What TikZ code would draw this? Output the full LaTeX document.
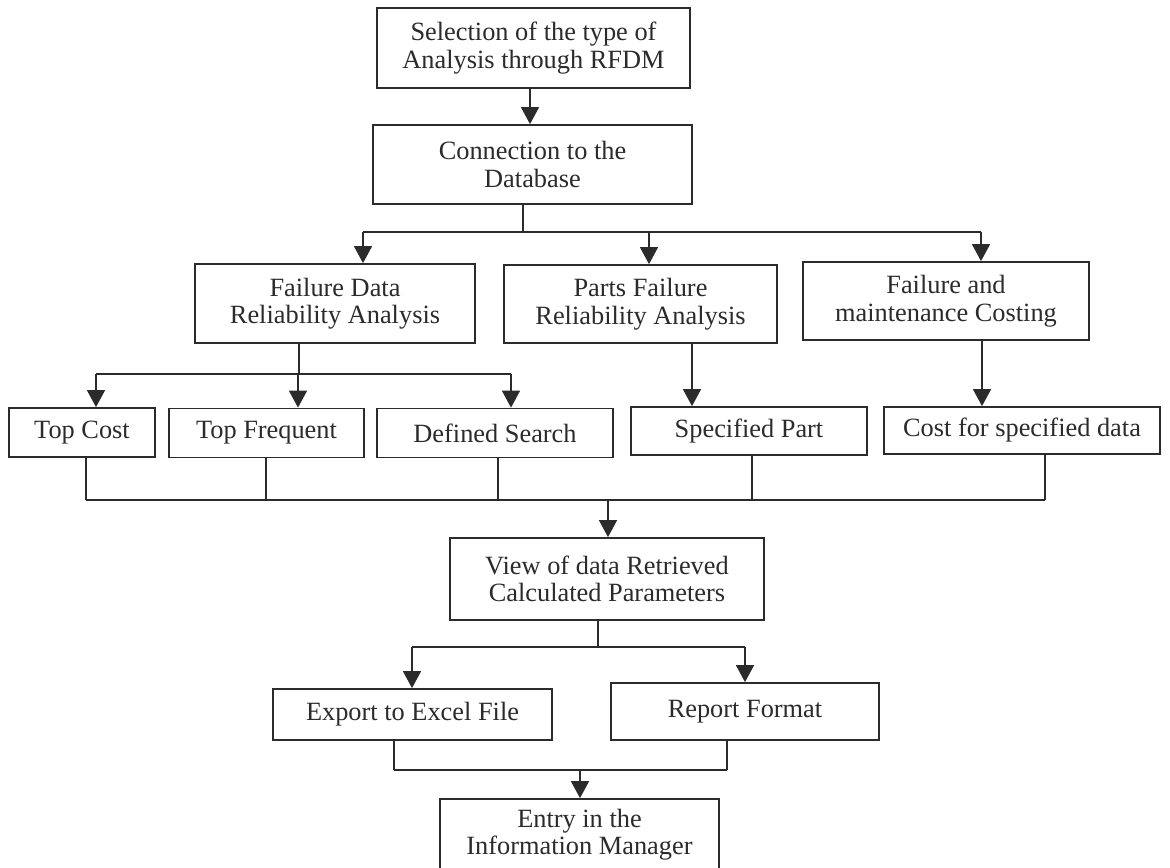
\documentclass[tikz,border=0pt]{standalone}
\usepackage{fontspec}
\setmainfont{Liberation Serif}
\usepackage{tikz}
\usetikzlibrary{arrows.meta,positioning}
\definecolor{InkGrey}{HTML}{2B2B2B}

\begin{document}
\begin{tikzpicture}[x=0.02cm,y=-0.02cm,
  box/.style={draw=InkGrey,line width=1pt,align=center,text=InkGrey,inner sep=0pt,font=\fontsize{15}{15.6}\selectfont},
  link/.style={draw=InkGrey,line width=0.8pt},
  arr/.style={link,-{Triangle[width=0.36cm,length=0.34cm]}}
]
  \useasboundingbox[fill=white] (0,0) rectangle (1170,868);

  \node[box,minimum width=6.26cm,minimum height=1.6cm] (sel) at (533.5,48) {Selection of the type of\\Analysis through RFDM};
  \node[box,minimum width=6.38cm,minimum height=1.58cm] (conn) at (532.5,164.5) {Connection to the\\Database};

  \node[box,minimum width=5.6cm,minimum height=1.58cm] (fdra) at (335,303.5) {Failure Data\\Reliability Analysis};
  \node[box,minimum width=5.46cm,minimum height=1.56cm] (pfra) at (640.5,304) {Parts Failure\\Reliability Analysis};
  \node[box,minimum width=5.72cm,minimum height=1.56cm] (fmc) at (946,301) {Failure and\\maintenance Costing};

  \node[box,minimum width=2.92cm,minimum height=0.98cm] (topcost) at (82,432.5) {Top Cost};
  \node[box,minimum width=3.9cm,minimum height=0.98cm] (topfreq) at (266.5,433) {Top Frequent};
  \node[box,minimum width=4.72cm,minimum height=0.98cm] (defsearch) at (495,433) {Defined Search};
  \node[box,minimum width=4.72cm,minimum height=0.96cm] (specpart) at (749,431) {Specified Part};
  \node[box,minimum width=5.52cm,minimum height=0.94cm] (costdata) at (1022,430.5) {Cost for specified data};

  \node[box,minimum width=6.28cm,minimum height=1.64cm] (view) at (607,579) {View of data Retrieved\\Calculated Parameters};

  \node[box,minimum width=5.58cm,minimum height=1.02cm] (export) at (412.5,714.5) {Export to Excel File};
  \node[box,minimum width=5.36cm,minimum height=1.14cm] (report) at (745,711.5) {Report Format};

  \node[box,minimum width=5.58cm,minimum height=1.42cm] (entry) at (579.5,834.5) {Entry in the\\Information Manager};

  % top of the chart
  \coordinate (a0) at (530,100);
  \draw[arr] (a0 |- sel.south) -- (a0 |- conn.north);

  \coordinate (t1) at (523,232);
  \coordinate (b1) at (363,232);
  \coordinate (b2) at (649,232);
  \coordinate (b3) at (981,232);
  \draw[link] (t1 |- conn.south) -- (t1);
  \draw[link] (b1) -- (b3);
  \foreach \b/\n in {b1/fdra,b2/pfra,b3/fmc}
    \draw[arr] (\b) -- (\b |- \n.north);

  % second level
  \coordinate (t2) at (299,374);
  \coordinate (c1) at (96,374);
  \coordinate (c2) at (298,374);
  \coordinate (c3) at (511,374);
  \draw[link] (t2 |- fdra.south) -- (t2);
  \draw[link] (c1) -- (c3);
  \foreach \c/\n in {c1/topcost,c2/topfreq,c3/defsearch}
    \draw[arr] (\c) -- (\c |- \n.north);

  \coordinate (d1) at (692,374);
  \coordinate (d2) at (982,374);
  \draw[arr] (d1 |- pfra.south) -- (d1 |- specpart.north);
  \draw[arr] (d2 |- fmc.south) -- (d2 |- costdata.north);

  % merge into the view
  \coordinate (m0) at (608,500);
  \coordinate (m1) at (86,500);
  \coordinate (m2) at (266,500);
  \coordinate (m3) at (498,500);
  \coordinate (m4) at (752,500);
  \coordinate (m5) at (1045,500);
  \foreach \m/\n in {m1/topcost,m2/topfreq,m3/defsearch,m4/specpart,m5/costdata}
    \draw[link] (\m |- \n.south) -- (\m);
  \draw[link] (m1) -- (m5);
  \draw[arr] (m0) -- (m0 |- view.north);

  % output
  \coordinate (t3) at (598,647);
  \coordinate (e1) at (412,647);
  \coordinate (e2) at (745,647);
  \draw[link] (t3 |- view.south) -- (t3);
  \draw[link] (e1) -- (e2);
  \draw[arr] (e1) -- (e1 |- export.north);
  \draw[arr] (e2) -- (e2 |- report.north);

  \coordinate (f0) at (580,770);
  \coordinate (f1) at (394,770);
  \coordinate (f2) at (727,770);
  \draw[link] (f1 |- export.south) -- (f1);
  \draw[link] (f2 |- report.south) -- (f2);
  \draw[link] (f1) -- (f2);
  \draw[arr] (f0) -- (f0 |- entry.north);
\end{tikzpicture}
\end{document}
